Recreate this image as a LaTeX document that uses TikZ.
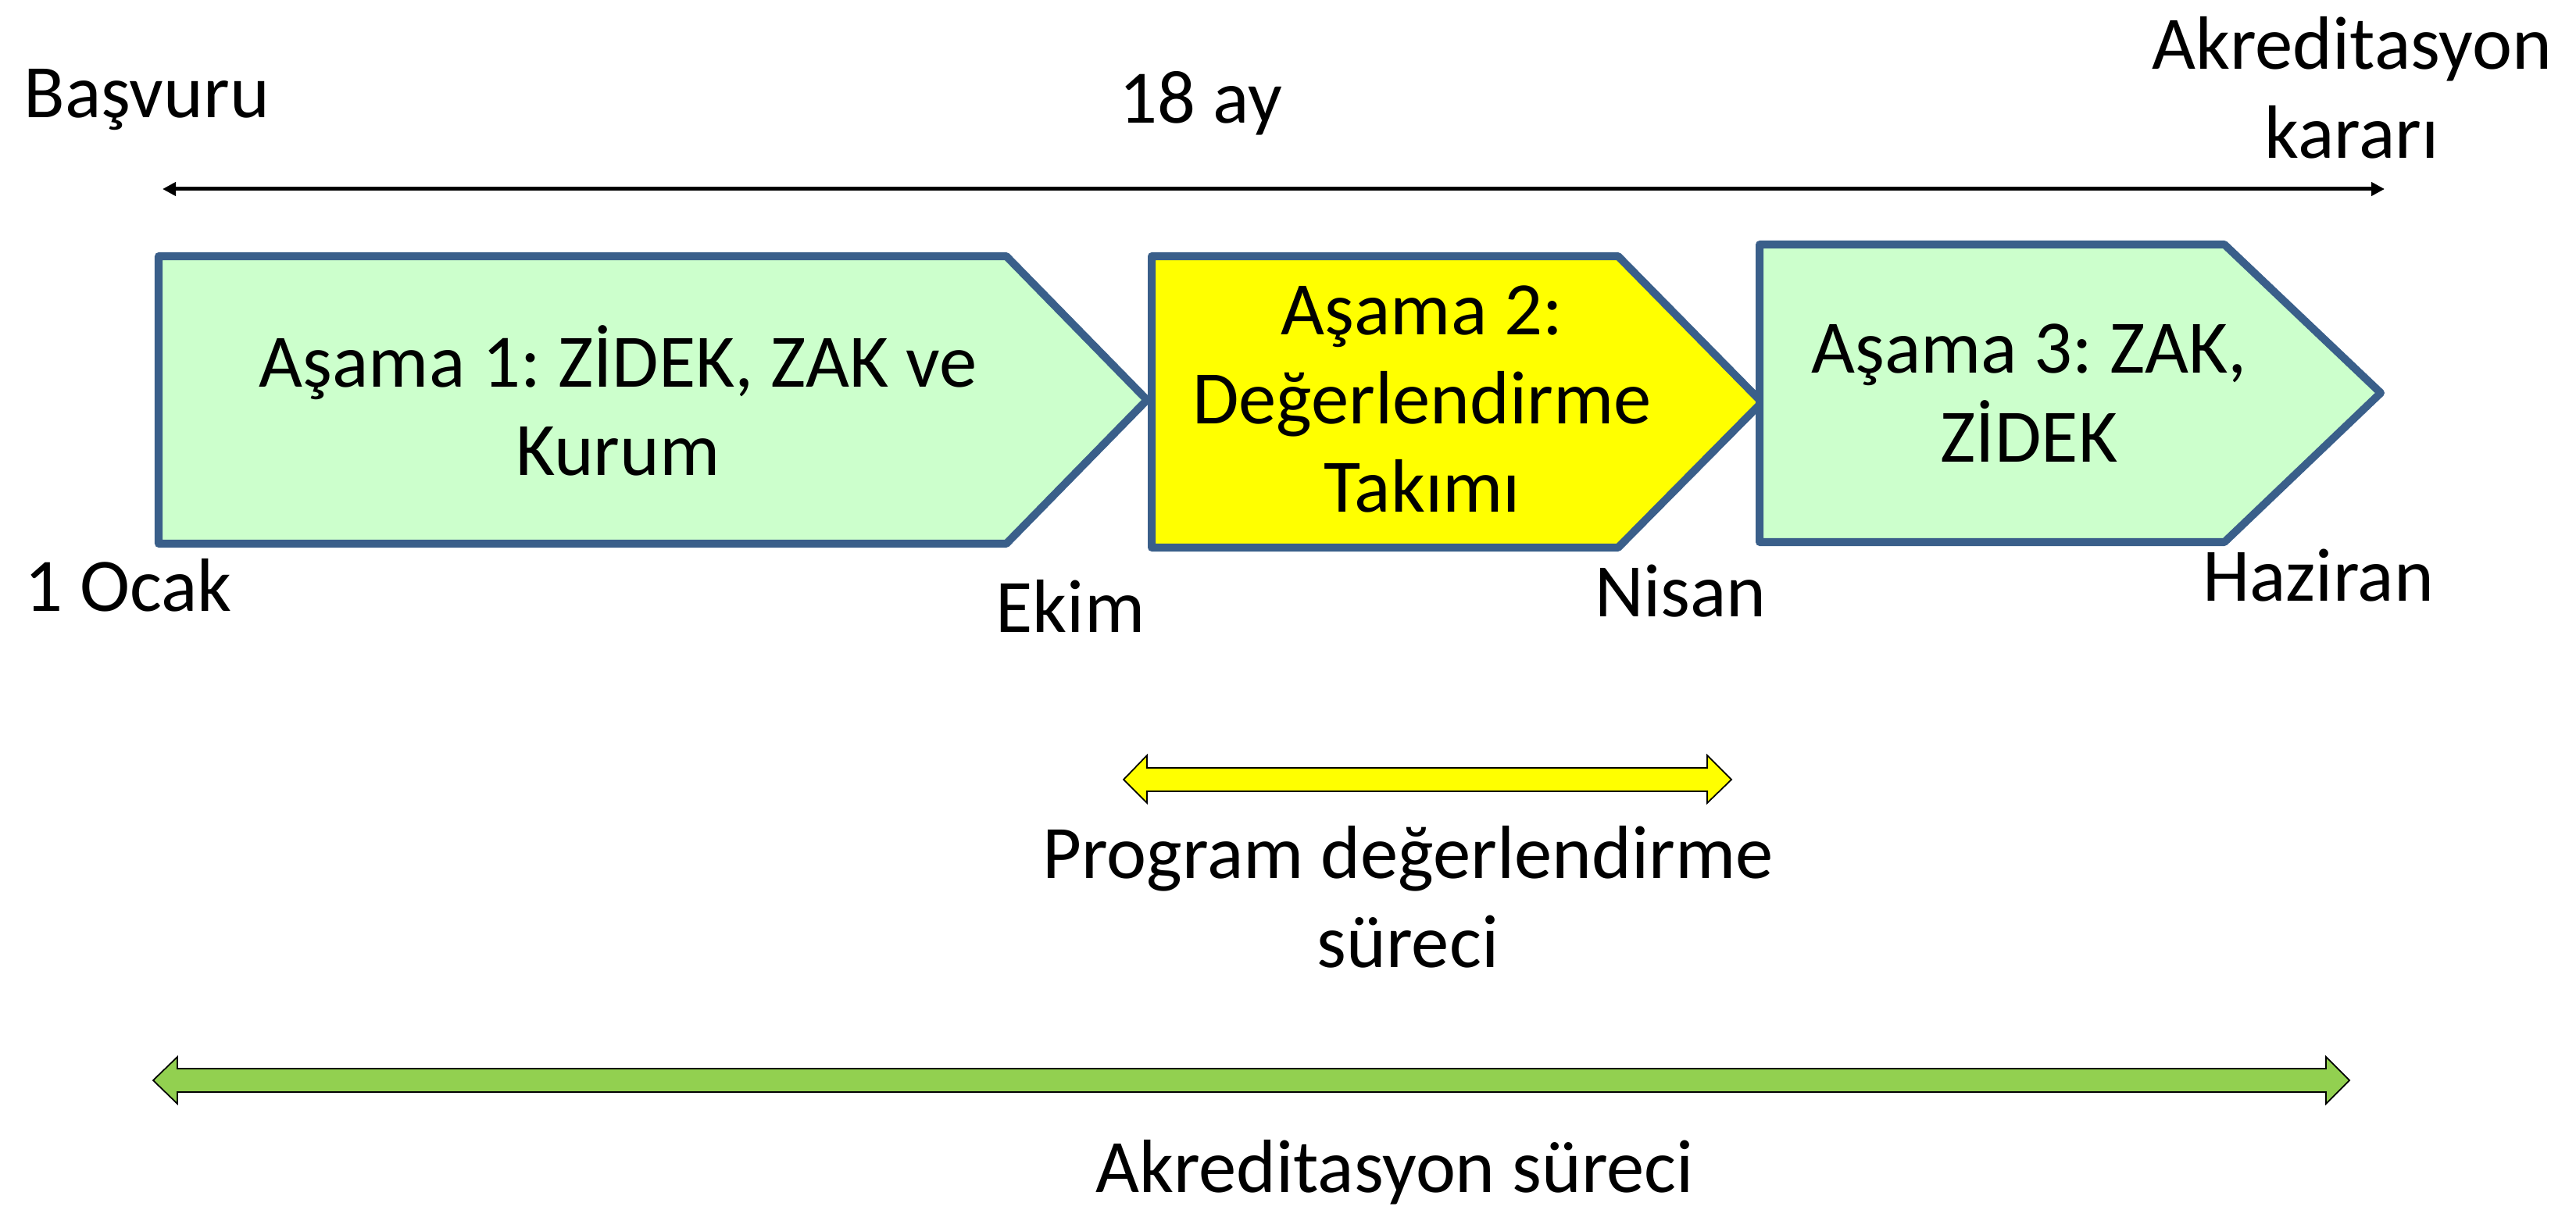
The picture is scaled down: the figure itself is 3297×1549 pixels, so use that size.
\documentclass[tikz,border=0pt]{standalone}
\usepackage{fontspec}
\setmainfont{Carlito}
\usetikzlibrary{arrows.meta}
\definecolor{edgeblue}{RGB}{58,95,138}
\definecolor{palegreen}{RGB}{204,255,204}
\definecolor{brightyellow}{RGB}{255,255,0}
\definecolor{leafgreen}{RGB}{146,208,80}
\frenchspacing
\begin{document}
\begin{tikzpicture}[x=0.01cm,y=-0.01cm,
  phase/.style={draw=edgeblue, line width=0.1cm, line join=round},
  lbl/.style={font=\fontsize{27.5}{32.3}\selectfont, align=center, inner sep=0pt},
  span/.style={draw=black, line width=0.5pt, line join=miter},
  timeline/.style={line width=0.05cm, {Triangle[length=0.17cm,width=0.17cm]}-{Triangle[length=0.17cm,width=0.17cm]}}]
\useasboundingbox (0,0) rectangle (3297,1549);

% top timeline
\coordinate (tl) at (208,242);
\coordinate (tr) at (3052,242);
\draw[timeline] (tl) -- (tr);

% phases
\draw[phase, fill=palegreen] (203,328) -- (1288,328) -- (1468,512) -- (1288,696) -- (203,696) -- cycle;
\draw[phase, fill=brightyellow] (1474,328) -- (2071,328) -- (2255,515) -- (2071,701) -- (1474,701) -- cycle;
\draw[phase, fill=palegreen] (2252,313) -- (2847,313) -- (3047,503) -- (2847,694) -- (2252,694) -- cycle;

\node[lbl] (p1) at (791,513) {Aşama 1: ZİDEK, ZAK ve\\Kurum};
\node[lbl] (p2) at (1820,511) {Aşama 2:\\Değerlendirme\\Takımı};
\node[lbl] (p3) at (2597,503) {Aşama 3: ZAK,\\ZİDEK};

% top labels
\node[lbl, anchor=west] (basvuru) at (30,128) {Başvuru};
\node[lbl, anchor=base] (ay) at (1537,158) {18 ay};
\node[lbl] (karar) at (3010,112) {Akreditasyon\\kararı};

% month labels
\node[lbl] (ocak) at (164,749) {1 Ocak};
\node[lbl] (ekim) at (1370,776) {Ekim};
\node[lbl] (nisan) at (2151,757) {Nisan};
\node[lbl] (haziran) at (2967,737) {Haziran};

% program evaluation span
\draw[span, fill=brightyellow] (1438,998) -- (1468,967) -- (1468,983) -- (2185,983) -- (2185,967) -- (2216,998) -- (2185,1028) -- (2185,1013) -- (1468,1013) -- (1468,1028) -- cycle;
\node[lbl] (prog) at (1802,1148) {Program değerlendirme\\süreci};

% accreditation span
\draw[span, fill=leafgreen] (196,1383) -- (227,1353) -- (227,1368) -- (2977,1368) -- (2977,1353) -- (3007,1383) -- (2977,1413) -- (2977,1398) -- (227,1398) -- (227,1413) -- cycle;
\node[lbl] (akr) at (1785,1501) {Akreditasyon süreci};
\end{tikzpicture}
\end{document}
